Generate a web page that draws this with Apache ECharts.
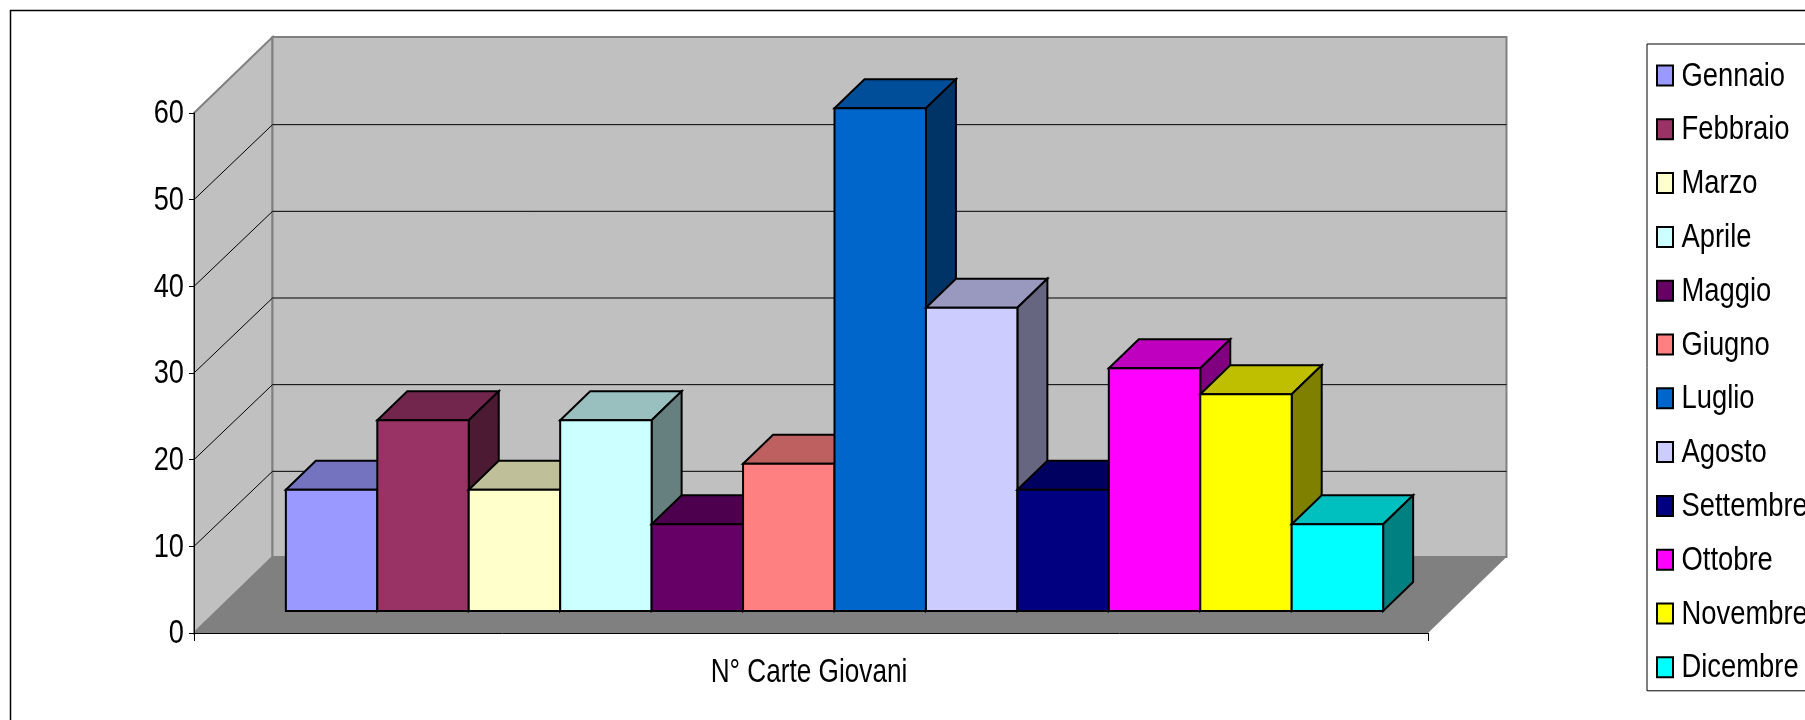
<!DOCTYPE html>
<html>
<head>
<meta charset="utf-8">
<style>html,body{margin:0;padding:0;background:#fff}#c{width:1805px;height:720px}</style>
<script src="https://cdn.jsdelivr.net/npm/echarts@6/dist/echarts.min.js"></script>
</head>
<body>
<div id="c"></div>
<script>
const categories = ['N° Carte Giovani'];
const months = ['Gennaio','Febbraio','Marzo','Aprile','Maggio','Giugno','Luglio','Agosto','Settembre','Ottobre','Novembre','Dicembre'];
const values = [14,22,14,22,10,17,58,35,14,28,25,10];
const frontColors = ['#9999FF','#993366','#FFFFCC','#CCFFFF','#660066','#FF8080','#0066CC','#CCCCFF','#000080','#FF00FF','#FFFF00','#00FFFF'];
const topColors = ['#7373BF','#73264D','#BFBF99','#99BFBF','#4D004D','#BF6060','#004D99','#9999BF','#000060','#BF00BF','#BFBF00','#00BFBF'];
const sideColors = ['#4D4D80','#4D1A33','#808066','#668080','#330033','#804040','#003366','#666680','#000040','#800080','#808000','#008080'];
const yTicks = [0,10,20,30,40,50,60];

const FONT = '"Liberation Sans",Arial,sans-serif';
const ROOM = {dx:78.5, dy:76};
const GRID_DY = 75;
const BAR_SHIFT = {dx:23.5, dy:22};
const BAR_DEPTH = {dx:30, dy:29};
const BAR_FRACTION = 0.0741;

function poly(points, fill, stroke, lw, z2){
  return {type:'polygon', z2:z2||0, shape:{points}, style:{fill, stroke:stroke||null, lineWidth:lw||0, lineJoin:'miter'}};
}
function renderRoom(params, api){
  const cs = params.coordSys;
  const x0 = cs.x, x1 = cs.x + cs.width;
  const yTop = api.coord([0, api.value(1)])[1];
  const yBase = api.coord([0, 0])[1];
  const d = ROOM;
  return {type:'group', children:[
    poly([[x0,yBase],[x0,yTop],[x0+d.dx,yTop-d.dy],[x0+d.dx,yBase-d.dy]], '#C0C0C0', '#808080', 2, 0),
    poly([[x0+d.dx,yBase-d.dy],[x0+d.dx,yTop-d.dy],[x1+d.dx,yTop-d.dy],[x1+d.dx,yBase-d.dy]], '#C0C0C0', '#808080', 2, 0),
    poly([[x0,yBase],[x0+d.dx,yBase-d.dy],[x1+d.dx,yBase-d.dy],[x1,yBase]], '#808080', null, 0, 1)
  ]};
}
function renderGridLine(params, api){
  const cs = params.coordSys;
  const x0 = cs.x, x1 = cs.x + cs.width;
  const y = api.coord([0, api.value(1)])[1];
  return {type:'polyline', shape:{points:[[x0,y],[x0+ROOM.dx,y-GRID_DY],[x1+ROOM.dx,y-GRID_DY]]},
    style:{fill:null, stroke:'#000', lineWidth:1}};
}
function renderBar(i){
  return function(params, api){
    const top = api.coord([api.value(0), api.value(1)]);
    const base = api.coord([api.value(0), 0]);
    const band = api.size([1,0])[0];
    const w = band * BAR_FRACTION;
    const xl = top[0] + BAR_SHIFT.dx + (i-6)*w;
    const xr = xl + w;
    const yt = top[1] - BAR_SHIFT.dy;
    const yb = base[1] - BAR_SHIFT.dy;
    const d = BAR_DEPTH;
    return {type:'group', children:[
      poly([[xl,yt],[xl+d.dx,yt-d.dy],[xr+d.dx,yt-d.dy],[xr,yt]], topColors[i], '#000', 2),
      poly([[xr,yt],[xr+d.dx,yt-d.dy],[xr+d.dx,yb-d.dy],[xr,yb]], sideColors[i], '#000', 2),
      poly([[xl,yt],[xr,yt],[xr,yb],[xl,yb]], frontColors[i], '#000', 2)
    ]};
  };
}

const series = [
  {name:'room', type:'custom', silent:true, z:1, renderItem:renderRoom, data:[[0,yTicks[yTicks.length-1]]]},
  {name:'griglia', type:'custom', silent:true, z:1.5, renderItem:renderGridLine, data:yTicks.slice(1,-1).map(v=>[0,v])}
].concat(months.map((m,i)=>({
  name:m, type:'custom', z:2+i*0.01, renderItem:renderBar(i), itemStyle:{color:frontColors[i]},
  encode:{x:0,y:1}, data:[[0,values[i]]]
})));

const chart = echarts.init(document.getElementById('c'), null, {renderer:'canvas'});
chart.setOption({
  animation:false,
  backgroundColor:'#fff',
  color:frontColors,
  graphic:[{type:'rect', silent:true, z:-10, shape:{x:10.5,y:10.5,width:2000,height:1000}, style:{fill:'#fff',stroke:'#000',lineWidth:1.5}}],
  grid:{left:194,top:113,width:1234,height:520,containLabel:false},
  xAxis:{type:'category', data:categories, z:5,
    axisLine:{lineStyle:{color:'#000',width:1}},
    axisTick:{show:true,length:8,lineStyle:{color:'#000'}},
    axisLabel:{color:'#000',fontFamily:FONT,fontSize:34,margin:23}},
  yAxis:{type:'value',min:0,max:60,interval:10,z:5,
    axisLine:{show:true,lineStyle:{color:'#000',width:1}},
    axisTick:{show:true,length:5,lineStyle:{color:'#000'}},
    splitLine:{show:false},
    axisLabel:{color:'#000',fontFamily:FONT,fontSize:34,margin:10}},
  legend:{show:true,orient:'vertical',left:1647,top:44,selectedMode:false,
    data:months.map(m=>({name:m,icon:'rect'})),
    itemWidth:16,itemHeight:20,itemGap:20.8,
    padding:[15,120,7,9],
    backgroundColor:'#fff',borderColor:'#000',borderWidth:1,
    itemStyle:{borderColor:'#000',borderWidth:2},
    textStyle:{color:'#000',fontFamily:FONT,fontSize:33}},
  series
});

// The reference's lettering is Arial-like type stretched tall: narrow each label around its anchor.
function narrowTexts(){
  chart.getZr().storage.getRoots().forEach(function(root){
    root.traverse(function(el){
      if (el.type === 'text' && el.style && el.style.text != null) {
        const t = String(el.style.text);
        const isLegend = months.indexOf(t) >= 0;
        const isCategory = categories.indexOf(t) >= 0;
        el.originX = el.style.x || 0;
        el.scaleX = isLegend ? 0.83 : (isCategory ? 0.77 : 0.80);
        if (isLegend) { el.x = (el.x || 0) + 3.5; el.y = (el.y || 0) + 1; }
        if (isCategory) el.x = (el.x || 0) - 2;
        if (!isLegend && !isCategory) el.y = (el.y || 0) + 1;
        el.markRedraw();
      }
    });
  });
  chart.getZr().refreshImmediately();
}
narrowTexts();
</script>
</body>
</html>
